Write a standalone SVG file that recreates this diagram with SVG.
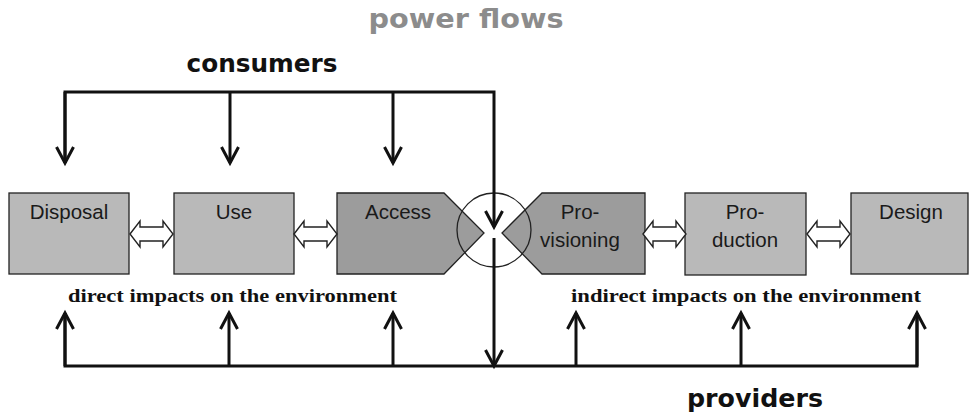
<svg xmlns="http://www.w3.org/2000/svg" width="970" height="417" viewBox="0 0 970 417">
<style>
.box{fill:#b9b9b9;stroke:#222;stroke-width:1.3}
.dark{fill:#9c9c9c;stroke:#222;stroke-width:1.3}
.lbl{font-family:"Liberation Sans",Arial,sans-serif;font-size:20.5px;fill:#1a1a1a;text-anchor:middle}
.ln{fill:none;stroke:#111;stroke-width:3}
.dbl{fill:#fff;stroke:#222;stroke-width:1.4}
.head{font-family:"DejaVu Sans",Verdana,sans-serif;font-weight:bold;fill:#111}
.imp{font-family:"Liberation Serif","Times New Roman",serif;font-weight:bold;font-size:19.5px;fill:#111}
</style>
<defs>
<marker id="v" markerUnits="userSpaceOnUse" orient="auto" refX="0" refY="0" markerWidth="20" markerHeight="20" viewBox="-18 -10 20 20" overflow="visible">
<path d="M-16,-8.5 L0,0 L-16,8.5" fill="none" stroke="#111" stroke-width="3"/>
</marker>
<path id="dblarrow" d="M0,0 L10,-13 L10,-7 L33,-7 L33,-13 L43,0 L33,13 L33,7 L10,7 L10,13 Z"/>
</defs>
<rect width="970" height="417" fill="#fff"/>

<text class="head" x="466" y="28" font-size="26" style="fill:#8c8c8c" text-anchor="middle" textLength="195" lengthAdjust="spacingAndGlyphs">power flows</text>
<text class="head" x="262" y="72" font-size="24.5" text-anchor="middle" textLength="151" lengthAdjust="spacingAndGlyphs">consumers</text>
<text class="head" x="755" y="407" font-size="24.5" text-anchor="middle" textLength="136" lengthAdjust="spacingAndGlyphs">providers</text>

<g id="disposal"><rect class="box" x="9" y="193" width="120" height="81"/><text class="lbl" x="69" y="219">Disposal</text></g>
<g id="use"><rect class="box" x="174" y="193" width="120" height="81"/><text class="lbl" x="234" y="219">Use</text></g>
<g id="access"><polygon class="dark" points="337,193 444,193 484,233 444,274 337,274"/><text class="lbl" x="398" y="219">Access</text></g>
<g id="provisioning"><polygon class="dark" points="542,193 645,193 645,274 542,274 502,233"/><text class="lbl" x="580" y="219">Pro-</text><text class="lbl" x="580" y="247">visioning</text></g>
<g id="production"><rect class="box" x="685" y="193" width="121" height="82"/><text class="lbl" x="745" y="219">Pro-</text><text class="lbl" x="745" y="247">duction</text></g>
<g id="design"><rect class="box" x="851" y="193" width="117" height="81"/><text class="lbl" x="911" y="219">Design</text></g>
<g id="switch"><circle cx="494" cy="230" r="37" fill="none" stroke="#222" stroke-width="1.3"/></g>

<g id="connectors">
<use href="#dblarrow" class="dbl" x="130" y="234"/>
<use href="#dblarrow" class="dbl" x="294" y="234"/>
<use href="#dblarrow" class="dbl" x="643" y="234"/>
<use href="#dblarrow" class="dbl" x="807" y="234"/>
<path class="ln" d="M65,163 L65,92 L494,92 L494,227" marker-end="url(#v)"/>
<path class="ln" d="M65,92 L65,163" marker-end="url(#v)"/>
<path class="ln" d="M230,92 L230,163" marker-end="url(#v)"/>
<path class="ln" d="M393,92 L393,163" marker-end="url(#v)"/>
<path class="ln" d="M494,238 L494,366" marker-end="url(#v)"/>
<path class="ln" d="M65,313 L65,366 L917,366 L917,313"/>
<path class="ln" d="M65,366 L65,313" marker-end="url(#v)"/>
<path class="ln" d="M229,366 L229,313" marker-end="url(#v)"/>
<path class="ln" d="M393,366 L393,313" marker-end="url(#v)"/>
<path class="ln" d="M576,366 L576,313" marker-end="url(#v)"/>
<path class="ln" d="M741,366 L741,313" marker-end="url(#v)"/>
<path class="ln" d="M917,366 L917,313" marker-end="url(#v)"/>
</g>

<text class="imp" x="68" y="302" textLength="329" lengthAdjust="spacingAndGlyphs">direct impacts on the environment</text>
<text class="imp" x="571" y="302" textLength="350" lengthAdjust="spacingAndGlyphs">indirect impacts on the environment</text>
</svg>
